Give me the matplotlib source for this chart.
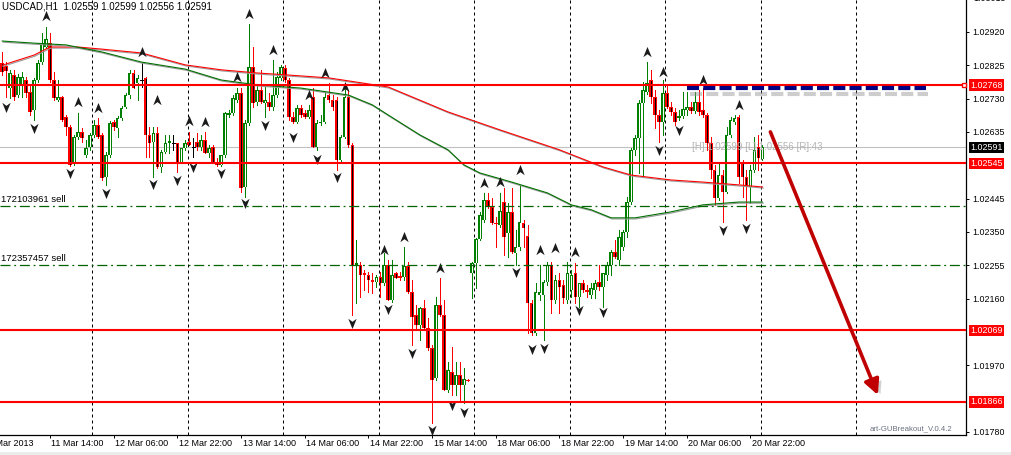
import numpy as np
import matplotlib
matplotlib.use("Agg")
import matplotlib.pyplot as plt
import matplotlib.transforms as mtransforms
import matplotlib.patheffects as pe
from matplotlib.path import Path
from matplotlib.patches import Rectangle

plt.rcParams['font.family'] = ['Liberation Sans', 'DejaVu Sans']

symbol = "USDCAD,H1"
first_bar = -12          # bar index 0 = 11 Mar 2013 14:00 (H1)

# ---- OHLC in points (price * 1e5) ----
opens = [
    102831, 102823, 102760, 102797, 102740, 102769, 102783, 102749, 102698, 102783,
    102834, 102877, 102888, 102783, 102726, 102735, 102678, 102649, 102546, 102621,
    102635, 102569, 102592, 102626, 102655, 102626, 102507, 102569, 102663, 102646,
    102675, 102706, 102740, 102803, 102774, 102783, 102789, 102626, 102606, 102632,
    102535, 102578, 102603, 102603, 102603, 102549, 102589, 102606, 102592, 102606,
    102592, 102612, 102575, 102592, 102549, 102541, 102569, 102683, 102689, 102726,
    102746, 102478, 102660, 102820, 102720, 102755, 102717, 102720, 102706, 102740,
    102789, 102817, 102783, 102678, 102663, 102703, 102689, 102678, 102735, 102592,
    102660, 102663, 102740, 102726, 102726, 102555, 102621, 102735, 102598, 102256,
    102256, 102233, 102227, 102213, 102207, 102222, 102204, 102256, 102156, 102233,
    102224, 102222, 102253, 102179, 102113, 102085, 102133, 102076, 102019, 101934,
    102142, 102113, 101900, 101951, 101914, 101942, 101914, 101928,
    102233, 102261, 102330, 102384, 102441, 102421, 102375, 102370, 102435, 102347,
    102407, 102290, 102307, 102375, 102338, 102147, 102062, 102170, 102170, 102207,
    102256, 102156, 102213, 102199, 102156, 102185, 102233, 102165, 102204, 102185,
    102170, 102185, 102207, 102193, 102227, 102256, 102293, 102270, 102307, 102350,
    102435, 102584, 102618, 102717, 102749, 102783, 102735, 102683, 102663, 102746,
    102706, 102692, 102675, 102680, 102698, 102706, 102695, 102720, 102698, 102683,
    102603, 102527, 102447, 102512, 102464, 102626, 102663, 102678, 102546, 102507,
    102478, 102527, 102592, 102559]
highs = [
    102863, 102834, 102812, 102812, 102800, 102806, 102792, 102769, 102789, 102840,
    102917, 102934, 102917, 102806, 102783, 102737, 102683, 102655, 102626, 102689,
    102646, 102612, 102632, 102669, 102675, 102632, 102578, 102666, 102669, 102680,
    102709, 102746, 102812, 102812, 102797, 102831, 102792, 102649, 102649, 102649,
    102584, 102626, 102626, 102626, 102603, 102589, 102612, 102635, 102618, 102632,
    102626, 102635, 102598, 102598, 102561, 102569, 102692, 102698, 102740, 102760,
    102760, 102669, 102943, 102877, 102769, 102812, 102769, 102746, 102840, 102806,
    102826, 102826, 102789, 102692, 102712, 102712, 102698, 102712, 102760, 102669,
    102683, 102749, 102774, 102740, 102735, 102626, 102760, 102755, 102603, 102327,
    102264, 102242, 102236, 102233, 102227, 102236, 102290, 102270, 102270, 102236,
    102236, 102307, 102264, 102213, 102142, 102136, 102156, 102105, 102028, 102165,
    102219, 102156, 101979, 102022, 101979, 101979, 101962, 101931,
    102264, 102333, 102407, 102461, 102461, 102447, 102393, 102461, 102475, 102432,
    102475, 102356, 102484, 102384, 102370, 102156, 102204, 102256, 102213, 102264,
    102264, 102227, 102233, 102213, 102264, 102242, 102261, 102204, 102213, 102199,
    102204, 102213, 102256, 102233, 102264, 102299, 102327, 102356, 102356, 102450,
    102589, 102626, 102726, 102777, 102834, 102812, 102755, 102698, 102783, 102769,
    102720, 102703, 102698, 102749, 102749, 102720, 102749, 102755, 102760, 102689,
    102621, 102541, 102546, 102527, 102649, 102678, 102683, 102683, 102555, 102527,
    102541, 102621, 102626, 102599]
lows = [
    102797, 102735, 102732, 102726, 102735, 102735, 102735, 102683, 102669, 102777,
    102829, 102874, 102777, 102726, 102723, 102666, 102626, 102538, 102541, 102615,
    102606, 102564, 102584, 102621, 102618, 102498, 102484, 102564, 102641, 102621,
    102669, 102703, 102732, 102760, 102726, 102763, 102564, 102564, 102507, 102532,
    102521, 102575, 102575, 102584, 102521, 102546, 102584, 102598, 102564, 102584,
    102584, 102575, 102564, 102549, 102538, 102538, 102564, 102678, 102683, 102720,
    102464, 102450, 102655, 102706, 102712, 102717, 102678, 102698, 102698, 102735,
    102783, 102777, 102669, 102660, 102660, 102678, 102675, 102675, 102592, 102584,
    102655, 102660, 102720, 102698, 102527, 102549, 102618, 102592, 102113, 102147,
    102165, 102185, 102179, 102176, 102193, 102165, 102199, 102156, 102150, 102219,
    102213, 102213, 102176, 102028, 102071, 102042, 102071, 102014, 101805, 101928,
    102110, 101900, 101894, 101885, 101885, 101865, 101862, 101925,
    102162, 102190, 102327, 102378, 102418, 102373, 102307, 102364, 102284, 102279,
    102290, 102256, 102299, 102307, 102062, 102056, 102056, 102156, 102042, 102199,
    102119, 102147, 102119, 102147, 102147, 102165, 102147, 102136, 102179, 102165,
    102162, 102162, 102185, 102136, 102213, 102227, 102276, 102256, 102299, 102336,
    102430, 102569, 102518, 102507, 102743, 102717, 102646, 102606, 102626, 102703,
    102683, 102655, 102669, 102675, 102683, 102689, 102689, 102683, 102678, 102584,
    102504, 102427, 102441, 102378, 102461, 102621, 102658, 102489, 102450, 102384,
    102432, 102521, 102527, 102556]
closes = [
    102806, 102809, 102803, 102735, 102792, 102792, 102746, 102692, 102783, 102831,
    102888, 102900, 102783, 102732, 102735, 102669, 102649, 102541, 102621, 102635,
    102618, 102589, 102626, 102655, 102621, 102504, 102569, 102660, 102649, 102675,
    102703, 102740, 102803, 102760, 102789, 102783, 102626, 102603, 102632, 102535,
    102578, 102603, 102609, 102603, 102549, 102589, 102603, 102598, 102592, 102592,
    102612, 102575, 102589, 102549, 102541, 102569, 102689, 102689, 102732, 102746,
    102475, 102660, 102820, 102717, 102755, 102720, 102726, 102706, 102740, 102792,
    102820, 102783, 102678, 102663, 102703, 102683, 102678, 102698, 102592, 102660,
    102663, 102735, 102726, 102706, 102555, 102621, 102735, 102598, 102256, 102261,
    102227, 102227, 102213, 102207, 102222, 102204, 102256, 102156, 102227, 102219,
    102219, 102253, 102179, 102108, 102085, 102133, 102076, 102019, 101928, 102142,
    102113, 101900, 101957, 101914, 101942, 101914, 101931, 101925,
    102261, 102330, 102398, 102441, 102421, 102375, 102373, 102410, 102336, 102407,
    102293, 102307, 102378, 102361, 102147, 102062, 102179, 102179, 102207, 102256,
    102156, 102213, 102193, 102162, 102233, 102227, 102165, 102204, 102185, 102179,
    102190, 102204, 102193, 102233, 102256, 102293, 102279, 102336, 102350, 102435,
    102584, 102618, 102717, 102755, 102774, 102735, 102683, 102663, 102746, 102706,
    102692, 102663, 102680, 102700, 102706, 102695, 102720, 102692, 102683, 102603,
    102527, 102447, 102512, 102464, 102626, 102669, 102675, 102507, 102507, 102478,
    102527, 102584, 102561, 102591]

# ---- moving averages (bar index, points) ----
ma_green_idx = [-12, -4, 4, 13, 23, 34, 43, 52, 63, 75, 81, 85, 93, 100, 104, 108,
                116, 125, 131, 136, 141, 147, 156, 164, 173, 179]
ma_green = [102894, 102888, 102883, 102863, 102834, 102814, 102783, 102769, 102760,
            102740, 102712, 102683, 102626, 102584, 102541, 102518, 102492, 102461,
            102427, 102413, 102390, 102390, 102407, 102427, 102435, 102435]
ma_red_idx = [-12, -4, 0, 7, 13, 23, 34, 43, 52, 60, 70, 77, 85, 100, 113, 128,
              139, 146, 156, 164, 173, 179]
ma_red = [102825, 102854, 102877, 102877, 102871, 102860, 102826, 102812, 102803,
          102797, 102789, 102777, 102763, 102692, 102641, 102584, 102535, 102512,
          102498, 102492, 102484, 102478]

# ---- fractals (bar index, arrow price in points) ----
up_frac_idx = [-1, 7, 12, 23, 27, 35, 39, 47, 50, 56, 65, 69, 74, 84, 89, 98, 109,
               113, 118, 123, 127, 132, 150, 154, 164, 173]
up_frac_price = [102965, 102720, 102703, 102863, 102726, 102666, 102663, 102792,
                 102971, 102869, 102740, 102803, 102763, 102299, 102336, 102247,
                 102489, 102492, 102527, 102299, 102304, 102293, 102863, 102806,
                 102783, 102712]
down_frac_idx = [-11, -4, 5, 14, 26, 32, 36, 43, 49, 54, 61, 67, 72, 76, 85, 91, 96,
                 101, 104, 117, 121, 124, 133, 139, 153, 158, 169, 175]
down_frac_price = [102706, 102646, 102518, 102461, 102487, 102498, 102535, 102518,
                   102432, 102655, 102621, 102558, 102507, 102090, 102130, 102005,
                   101786, 101857, 101837, 102236, 102016, 102019, 102127, 102122,
                   102584, 102641, 102356, 102361]

# ---- axes labels ----
price_ticks = [1.02920, 1.02825, 1.02730, 1.02635, 1.02445, 1.02350,
               1.02255, 1.02160, 1.01970, 1.01780]
top_cut_tick = 1.03015
time_tick_idx = [-16, 0, 16, 32, 48, 64, 80, 96, 112, 128, 144, 160, 176]
time_tick_labels = ["8 Mar 2013", "11 Mar 14:00", "12 Mar 06:00", "12 Mar 22:00",
                    "13 Mar 14:00", "14 Mar 06:00", "14 Mar 22:00", "15 Mar 14:00",
                    "18 Mar 06:00", "18 Mar 22:00", "19 Mar 14:00", "20 Mar 06:00",
                    "20 Mar 22:00"]
day_start_idx = [10, 34, 58, 82, 106, 130, 154, 178, 202]

# ---- objects ----
red_levels = [1.02768, 1.02545, 1.02069, 1.01866]
sell_tickets = ["172103961", "172357457"]
sell_prices = [1.02424, 1.02256]
breakout_level = 1.02760
breakout_idx = [160, 220]
arrow_idx = [181, 208]
arrow_price = [1.02635, 1.01885]
ea_name = "art-GUBreakout_V.0.4.2"

# ================= drawing =================
o = np.array(opens) / 1e5
h = np.array(highs) / 1e5
l = np.array(lows) / 1e5
c = np.array(closes) / 1e5
idx = np.arange(first_bar, first_bar + len(o))

W, H = 1011, 455
fig = plt.figure(figsize=(W / 100, H / 100), dpi=100)
fig.patch.set_facecolor('white')
ax = fig.add_axes([0, 20 / H, 966 / W, 435 / H])
ax.set_facecolor('white')
ax.set_xlim(-12.56, 230.15)
ax.set_ylim(1.01771, 1.03011)
for s in ['top', 'left']:
    ax.spines[s].set_visible(False)
for s in ['bottom', 'right']:
    ax.spines[s].set_linewidth(0.9)
    ax.spines[s].set_color('black')

bull = '#008000'
bear = '#FF0000'
px = (ax.get_ylim()[1] - ax.get_ylim()[0]) / 435.0   # one pixel in price units

# day separators
for d in day_start_idx:
    ax.axvline(d + 0.6, color='black', lw=0.72, ls=(0, (3, 3)), zorder=1)

# candles: wick, coloured body, thin inner stripe (white for bull, black for bear)
up = c > o
dn = c < o
dj = c == o
ax.vlines(idx[up], l[up], h[up], colors=bull, lw=0.72, zorder=3, antialiased=False)
ax.vlines(idx[dn], l[dn], h[dn], colors=bear, lw=0.72, zorder=3, antialiased=False)
ax.vlines(idx[dj], l[dj], h[dj], colors='black', lw=0.72, zorder=3, antialiased=False)
ax.bar(idx[up], (c - o)[up], bottom=o[up], width=0.92, color=bull,
       linewidth=0, zorder=4, antialiased=False)
ax.bar(idx[dn], (o - c)[dn], bottom=c[dn], width=0.92, color=bear,
       linewidth=0, zorder=4, antialiased=False)
big_up = up & ((c - o) > 2.5 * px)
big_dn = dn & ((o - c) > 2.5 * px)
ax.vlines(idx[big_up], o[big_up] + px, c[big_up] - px, colors='white', lw=0.6,
          zorder=5, antialiased=False)
ax.vlines(idx[big_dn], c[big_dn] + px, o[big_dn] - px, colors='black', lw=0.6,
          zorder=5, antialiased=False)
ax.hlines(o[dj], idx[dj] - 0.4, idx[dj] + 0.4, colors='black', lw=0.72, zorder=4,
          antialiased=False)

# moving averages with grey shadow
shadow = [pe.SimpleLineShadow(offset=(0.6, -0.8), shadow_color='#9a9a9a', alpha=1.0),
          pe.Normal()]
ax.plot(ma_red_idx, np.array(ma_red) / 1e5, color='#FF0000', lw=0.8, zorder=6,
        path_effects=shadow)
ax.plot(ma_green_idx, np.array(ma_green) / 1e5, color='#007000', lw=0.8, zorder=6,
        path_effects=shadow)

# fractal arrows
up_path = Path([(0, 1), (0.75, -0.85), (0, -0.3), (-0.75, -0.85), (0, 1)],
               [Path.MOVETO, Path.LINETO, Path.LINETO, Path.LINETO, Path.CLOSEPOLY])
dn_path = Path([(0, -1), (0.75, 0.85), (0, 0.3), (-0.75, 0.85), (0, -1)],
               [Path.MOVETO, Path.LINETO, Path.LINETO, Path.LINETO, Path.CLOSEPOLY])
ax.plot(up_frac_idx, np.array(up_frac_price) / 1e5, ls='none', marker=up_path,
        markersize=8, color='#1a1a1a', markeredgewidth=0, zorder=6)
ax.plot(down_frac_idx, np.array(down_frac_price) / 1e5, ls='none', marker=dn_path,
        markersize=8, color='#1a1a1a', markeredgewidth=0, zorder=6)

# bid line
bid = c[-1]
ax.axhline(bid, color='#C0C0C0', lw=0.8, zorder=2)

# red levels
for lv in red_levels:
    ax.axhline(lv, color='#FF0000', lw=1.5, zorder=7)

# sell orders
trans_la = mtransforms.blended_transform_factory(ax.transAxes, ax.transData)
for tk, sp in zip(sell_tickets, sell_prices):
    ax.axhline(sp, color='#006400', lw=0.9, ls=(0, (8, 3, 1.5, 3)), zorder=7)
    ax.text(0.001, sp, f"{tk} sell",
            transform=trans_la + mtransforms.ScaledTranslation(0, 2 / 100, fig.dpi_scale_trans),
            ha='left', va='bottom', fontsize=6.8, color='black', zorder=8)

# breakout dashed line (navy with shadow)
ax.plot(breakout_idx, [breakout_level, breakout_level], color='#000080', lw=3,
        ls=(0, (2.9, 1.0)), solid_capstyle='butt', dash_capstyle='butt', zorder=8,
        path_effects=[pe.SimpleLineShadow(offset=(2, -4.5), shadow_color='#909090', alpha=0.45),
                      pe.Normal()])
ax.plot([ax.get_xlim()[1] - 0.6], [red_levels[0]], marker='s', markersize=3.5,
        markerfacecolor='white', markeredgecolor='#FF0000', markeredgewidth=1,
        zorder=9, clip_on=False)

# big red arrow
ax.annotate('', xy=(arrow_idx[1], arrow_price[1]), xytext=(arrow_idx[0], arrow_price[0]),
            arrowprops=dict(arrowstyle='-|>,head_length=0.9,head_width=0.45',
                            lw=2.6, color='#C00000', shrinkA=0, shrinkB=0,
                            path_effects=[pe.withSimplePatchShadow(offset=(3, -2), shadow_rgbFace='#808080', alpha=0.35)]),
            zorder=9)

# H/L/R info text
rng = int(round((h[-1] - l[-1]) * 1e5))
ax.text(161.3, bid, f"[H]:{h[-1]:.5f} [L]:{l[-1]:.5f} [R]:{rng}", ha='left', va='center',
        fontsize=7, color='#B4B4B4', zorder=8)

# title
ax.text(0.002, 0.997, f"{symbol}  {o[-1]:.5f} {h[-1]:.5f} {l[-1]:.5f} {c[-1]:.5f}",
        transform=ax.transAxes, ha='left', va='top', fontsize=7, color='black', zorder=10)

# EA name
ax.text(870 / 966, 0.006, ea_name, transform=ax.transAxes, ha='left', va='bottom',
        fontsize=5.6, color='#6a7080', zorder=10)

# right price axis
ax.yaxis.tick_right()
ax.set_yticks(price_ticks)
ax.set_yticklabels([f"{p:.5f}" for p in price_ticks])
ax.tick_params(axis='y', direction='out', length=2.5, width=0.7, pad=2,
               labelsize=6.4, colors='black')
ax.text(1.0, top_cut_tick, f"{top_cut_tick:.5f}", transform=trans_la +
        mtransforms.ScaledTranslation(7 / 100, 0, fig.dpi_scale_trans),
        ha='left', va='center', fontsize=6.4, clip_on=False)

# boxed price labels
box_off = mtransforms.ScaledTranslation(4.5 / 100, 0, fig.dpi_scale_trans)
for lv in red_levels:
    ax.text(1.0, lv, f"{lv:.5f}", transform=trans_la + box_off, ha='left', va='center',
            fontsize=6.4, color='white', zorder=20, clip_on=False,
            bbox=dict(boxstyle='square,pad=0.15', fc='#FF0000', ec='none'))
ax.text(1.0, bid, f"{bid:.5f}", transform=trans_la + box_off, ha='left', va='center',
        fontsize=6.4, color='white', zorder=20, clip_on=False,
        bbox=dict(boxstyle='square,pad=0.15', fc='black', ec='none'))

# time axis
in_range = [t for t in time_tick_idx if t >= ax.get_xlim()[0]]
ax.set_xticks(in_range)
ax.set_xticklabels([''] * len(in_range))
ax.tick_params(axis='x', direction='out', length=2.5, width=0.7)
trans_b = mtransforms.blended_transform_factory(ax.transData, ax.transAxes)
lab_off = mtransforms.ScaledTranslation(1.5 / 100, -4.5 / 100, fig.dpi_scale_trans)
for t, lab in zip(time_tick_idx, time_tick_labels):
    ax.text(t, 0, lab, transform=trans_b + lab_off, ha='left', va='top',
            fontsize=6.5, color='black', clip_on=False)

# bottom strip
fig.patches.append(Rectangle((0, 0), 1, 3 / H, transform=fig.transFigure,
                             facecolor='#EBEBEB', edgecolor='none'))

fig.savefig('out.png', dpi=100, facecolor='white')
